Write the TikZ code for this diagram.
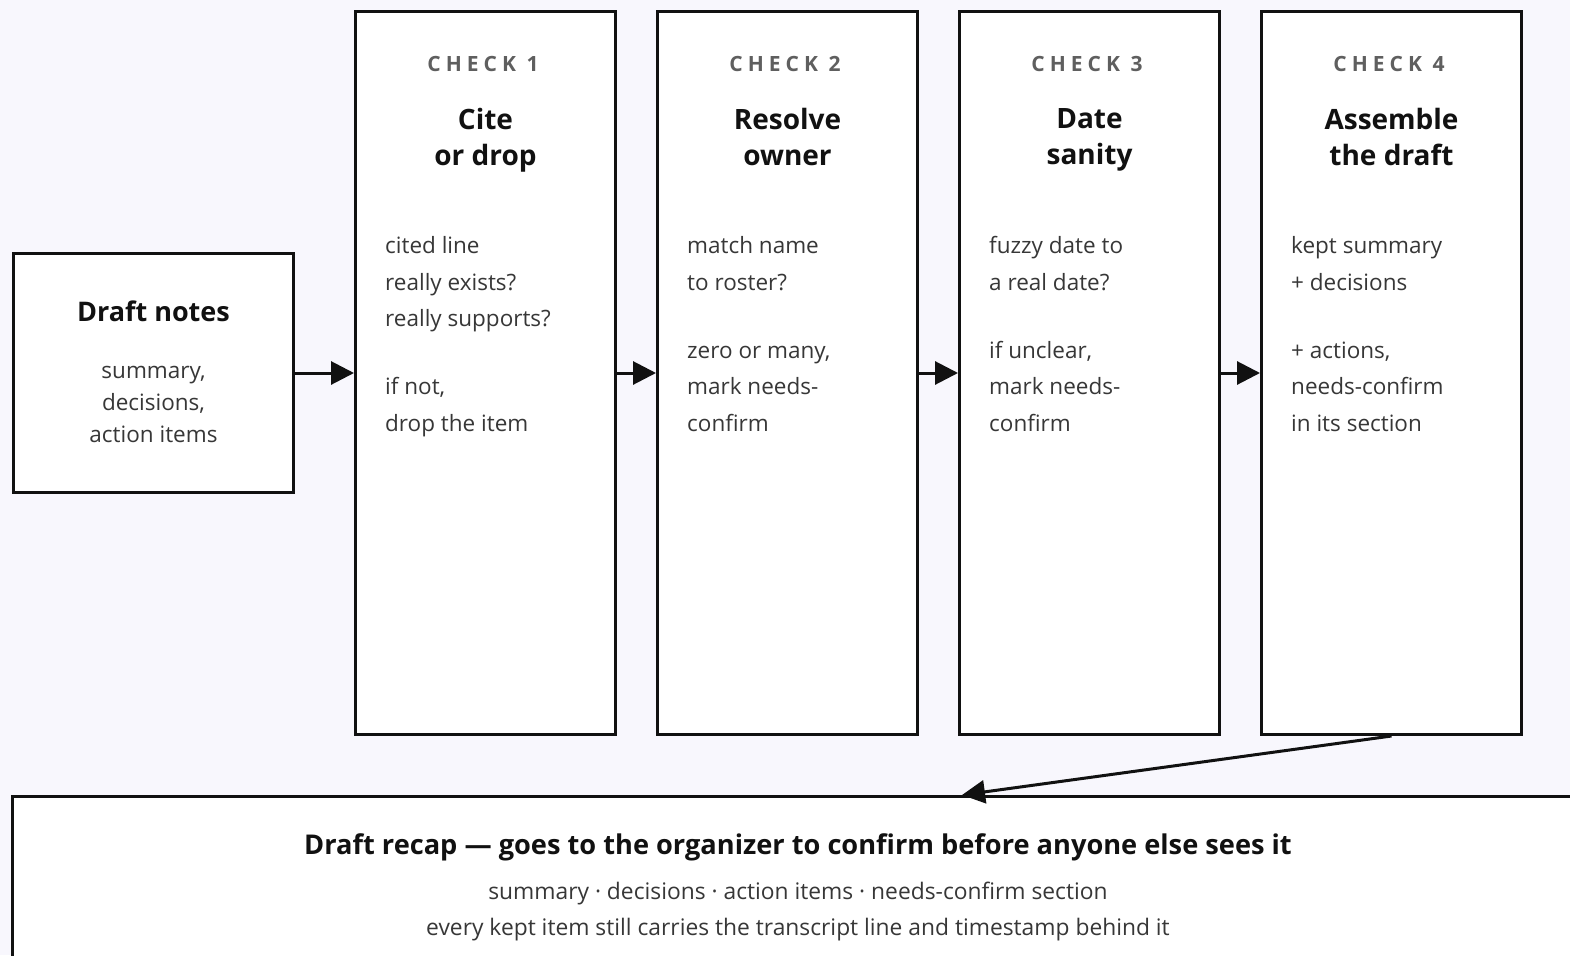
\documentclass[tikz,border=0pt]{standalone}
\usepackage{fontspec}
\IfFontExistsTF{Noto Sans SemiBold}{%
  \setmainfont{Noto Sans}[BoldFont={Noto Sans SemiBold}]%
  \newfontfamily\tagfont{Noto Sans}[LetterSpace=24, BoldFont={Noto Sans SemiBold}]}{%
  \IfFontExistsTF{Noto Sans Bold}{%
    \setmainfont{Noto Sans}[BoldFont={Noto Sans Bold}]%
    \newfontfamily\tagfont{Noto Sans}[LetterSpace=24, BoldFont={Noto Sans Bold}]}{%
    \setmainfont{Open Sans}%
    \newfontfamily\tagfont{Open Sans}[LetterSpace=24]}}
\usetikzlibrary{arrows.meta, positioning}
\definecolor{PageBg}{RGB}{248,247,253}
\definecolor{Ink}{RGB}{17,17,17}
\definecolor{BodyGrey}{RGB}{55,55,55}
\definecolor{TagGrey}{RGB}{95,95,95}

\begin{document}
\begin{tikzpicture}[
            x=1pt, y=-1pt,
            node distance=39pt,
            box/.style={
                draw=Ink,
                fill=white,
                line width=3pt,
                inner sep=0pt
            },
            checkbox/.style={box, minimum width=260pt, minimum height=723pt},
            tagtext/.style={font=\tagfont\bfseries\fontsize{21}{22}\selectfont, text=TagGrey},
            headtext/.style={font=\bfseries\fontsize{28}{36}\selectfont, text=Ink, align=center,
                inner sep=0pt, execute at begin node=\strut, execute at end node=\strut},
            bodytext/.style={font=\fontsize{22.5}{36.5}\selectfont, text=BodyGrey, align=left,
                inner sep=0pt, anchor=north west},
            arrow/.style={-{Triangle[length=23pt,width=23pt]}, line width=3pt, draw=Ink}
        ]
            \useasboundingbox (0,0) rectangle (1570,955);
            \fill[PageBg] (0,0) rectangle (1570,955);
            \clip (0,0) rectangle (1570,955);

            % boxes
            \node[box, minimum width=280pt, minimum height=239pt] (draft) at (153.5,373) {};
            \node[checkbox, right=59pt of draft] (c1) {};
            \node[checkbox, right=of c1] (c2) {};
            \node[checkbox, right=of c2] (c3) {};
            \node[checkbox, right=of c3] (c4) {};
            \node[box, minimum width=1569pt, minimum height=220pt, anchor=north west] (recap) at (10.5,794.5) {};

            % draft text
            \node[headtext, font=\bfseries\fontsize{27}{36}\selectfont] (drafthead) at (153.5,314.5) {Draft notes};
            \node[font=\fontsize{22.5}{32}\selectfont, text=BodyGrey, align=center] (draftbody) at (153.5,404)
                {summary,\\decisions,\\action items};

            % check 1
            \node[tagtext] (c1tag) at ([xshift=-2.5pt, yshift=-54pt]c1.north) {CHECK 1};
            \node[headtext] (c1head) at ([yshift=-132pt]c1.north) {Cite\\or drop};
            \node[bodytext] (c1body) at ([xshift=31pt, yshift=-226.5pt]c1.north west)
                {cited line\\really exists?\\really supports?\\[31.5pt]if not,\\drop the item};

            % check 2
            \node[tagtext] (c2tag) at ([xshift=-2.5pt, yshift=-54pt]c2.north) {CHECK 2};
            \node[headtext] (c2head) at ([yshift=-132pt]c2.north) {Resolve\\owner};
            \node[bodytext] (c2body) at ([xshift=31pt, yshift=-226.5pt]c2.north west)
                {match name\\to roster?\\[31.5pt]zero or many,\\mark needs-\\confirm};

            % check 3
            \node[tagtext] (c3tag) at ([xshift=-2.5pt, yshift=-54pt]c3.north) {CHECK 3};
            \node[headtext] (c3head) at ([yshift=-132pt]c3.north) {Date\\sanity};
            \node[bodytext] (c3body) at ([xshift=31pt, yshift=-226.5pt]c3.north west)
                {fuzzy date to\\a real date?\\[31.5pt]if unclear,\\mark needs-\\confirm};

            % check 4
            \node[tagtext] (c4tag) at ([xshift=-2.5pt, yshift=-54pt]c4.north) {CHECK 4};
            \node[headtext] (c4head) at ([yshift=-132pt]c4.north) {Assemble\\the draft};
            \node[bodytext] (c4body) at ([xshift=31pt, yshift=-226.5pt]c4.north west)
                {kept summary\\+ decisions\\[31.5pt]+ actions,\\needs-confirm\\in its section};

            % recap text
            \node[headtext, font=\bfseries\fontsize{27.2}{36}\selectfont] (recaphead) at (798,847.5)
                {Draft recap — goes to the organizer to confirm before anyone else sees it};
            \node[font=\fontsize{22.8}{36}\selectfont, text=BodyGrey, align=center] (recapbody) at (798,911.5)
                {summary · decisions · action items · needs-confirm section\\every kept item still carries the transcript line and timestamp behind it};

            % connectors
            \coordinate (recapin) at (962,795);
            \draw[arrow] (draft) -- (c1);
            \draw[arrow] (c1) -- (c2);
            \draw[arrow] (c2) -- (c3);
            \draw[arrow] (c3) -- (c4);
            \draw[arrow] (c4.south) -- (recapin);
        \end{tikzpicture}
\end{document}
